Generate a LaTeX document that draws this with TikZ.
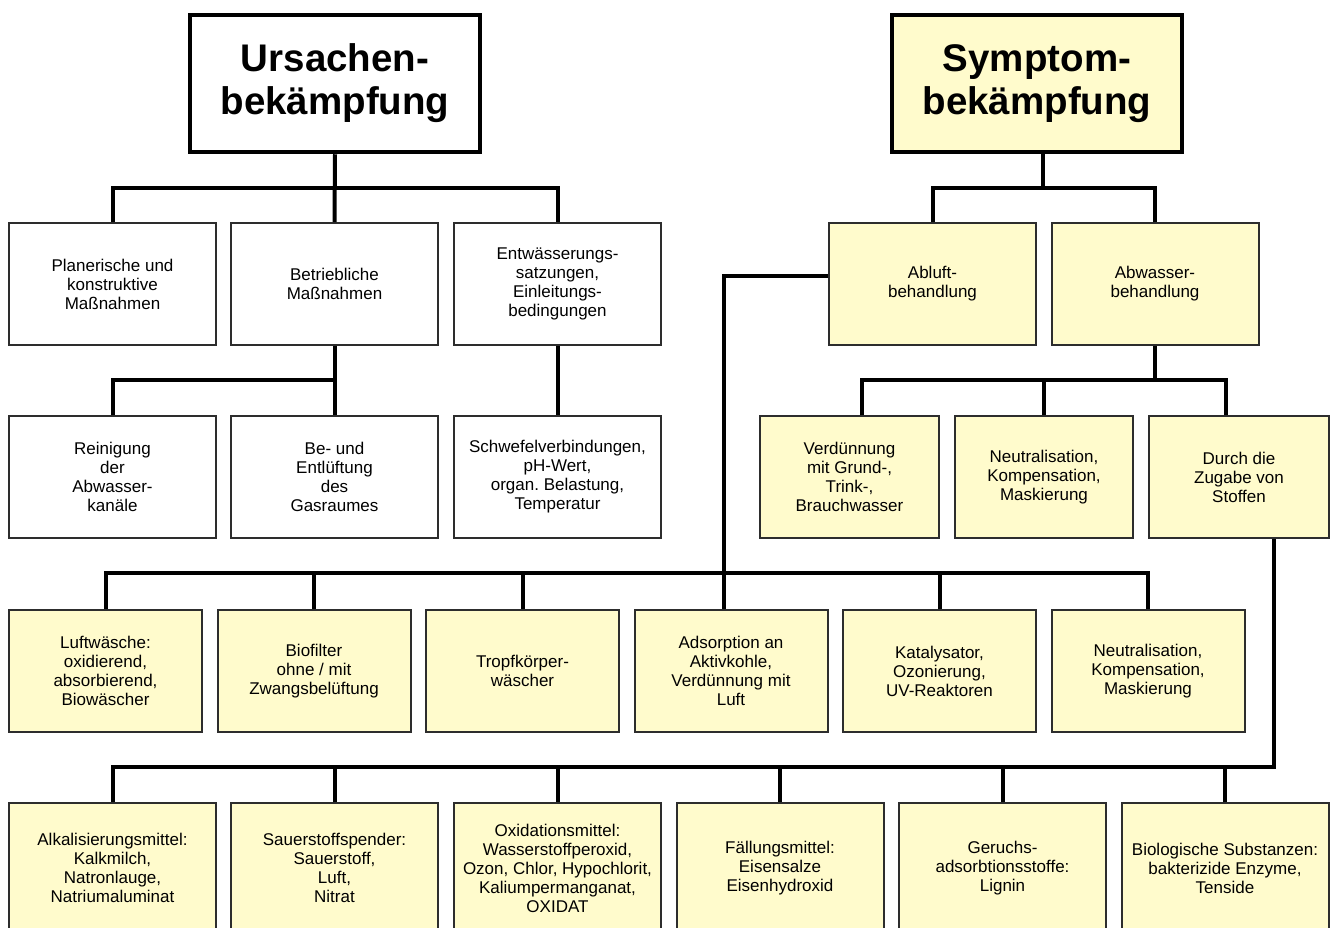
\documentclass[tikz,border=0pt]{standalone}
\usepackage{fontspec}
\setmainfont{Liberation Sans}
\usetikzlibrary{calc}
\definecolor{paleyellow}{RGB}{255,251,204}
\definecolor{edgegray}{RGB}{45,45,45}
\tikzset{
	mainbox/.style={draw=black, line width=4.5pt, minimum width=290, minimum height=137, inner sep=0, align=center, font=\fontsize{38.5}{43}\selectfont\bfseries},
	wbox/.style={draw=edgegray, line width=2pt, fill=white, minimum width=207, minimum height=122, inner sep=0, align=center, font=\fontsize{17}{19}\selectfont},
	ybox/.style={wbox, fill=paleyellow},
	conn/.style={line width=4pt, black}
}
\frenchspacing

\begin{document}
\begin{tikzpicture}[x=1pt, y=-1pt]
			%%%%% START %%%%%
			\useasboundingbox (0, 0) rectangle (1330, 927);
			\clip (0, 0) rectangle (1330, 927);
			
			% junction heights
			\coordinate (barA) at (0, 188);
			\coordinate (barB) at (0, 380);
			\coordinate (barC) at (0, 573);
			\coordinate (barD) at (0, 767);
			
			\node[mainbox] (urs) at (335, 83.5) {Ursachen-\\bekämpfung};
			\node[mainbox, fill=paleyellow] (sym) at (1037, 83.5) {Symptom-\\bekämpfung};
			
			\node[wbox] (plan) at (112.5, 284) {Planerische und\\konstruktive\\Maßnahmen};
			\node[wbox] (betr) at (334.5, 284) {Betriebliche\\Maßnahmen};
			\node[wbox] (entw) at (557.5, 284) {Entwässerungs-\\satzungen,\\Einleitungs-\\bedingungen};
			\node[ybox] (abl) at (932.5, 284) {Abluft-\\behandlung};
			\node[ybox] (abw) at (1155, 284) {Abwasser-\\behandlung};
			
			\node[wbox] (rein) at (112.5, 477) {Reinigung\\der\\Abwasser-\\kanäle};
			\node[wbox] (belue) at (334.5, 477) {Be- und\\Entlüftung\\des\\Gasraumes};
			\node[wbox] (schw) at (557.5, 477) {Schwefelverbindungen,\\pH-Wert,\\organ. Belastung,\\Temperatur};
			\node[ybox, minimum width=179] (verd) at (849.5, 477) {Verdünnung\\mit Grund-,\\Trink-,\\Brauchwasser};
			\node[ybox, minimum width=178] (neutA) at (1044, 477) {Neutralisation,\\Kompensation,\\Maskierung};
			\node[ybox, minimum width=180] (zug) at (1239, 477) {Durch die\\Zugabe von\\Stoffen};
			
			\node[ybox, minimum width=193] (luft) at (105.5, 671) {Luftwäsche:\\oxidierend,\\absorbierend,\\Biowäscher};
			\node[ybox, minimum width=193] (bio) at (314, 671) {Biofilter\\ohne / mit\\Zwangsbelüftung};
			\node[ybox, minimum width=193] (tropf) at (522.5, 671) {Tropfkörper-\\wäscher};
			\node[ybox, minimum width=193] (ads) at (731, 671) {Adsorption an\\Aktivkohle,\\Verdünnung mit\\Luft};
			\node[ybox, minimum width=193] (kat) at (939.5, 671) {Katalysator,\\Ozonierung,\\UV-Reaktoren};
			\node[ybox, minimum width=193] (neutB) at (1148, 671) {Neutralisation,\\Kompensation,\\Maskierung};
			
			% last row runs past the lower edge
			\node[ybox, minimum height=130] (alk) at (112.5, 868) {Alkalisierungsmittel:\\Kalkmilch,\\Natronlauge,\\Natriumaluminat};
			\node[ybox, minimum height=130] (sauer) at (334.5, 868) {Sauerstoffspender:\\Sauerstoff,\\Luft,\\Nitrat};
			\node[ybox, minimum height=130] (oxi) at (557.5, 868) {Oxidationsmittel:\\Wasserstoffperoxid,\\Ozon, Chlor, Hypochlorit,\\Kaliumpermanganat,\\OXIDAT};
			\node[ybox, minimum height=130] (fael) at (780, 868) {Fällungsmittel:\\Eisensalze\\Eisenhydroxid};
			\node[ybox, minimum height=130] (geruch) at (1002.5, 868) {Geruchs-\\adsorbtionsstoffe:\\Lignin};
			\node[ybox, minimum height=130] (biosub) at (1225, 868) {Biologische Substanzen:\\bakterizide Enzyme,\\Tenside};
			
			% Ursachenbekaempfung
			\draw[conn] (urs.south) -- (betr.north);
			\draw[conn] (plan.north) |- (entw.north |- barA) -- (entw.north);
			\draw[conn] (rein.north) |- (betr.south |- barB) -- (betr.south) (belue.north) -- (betr.south);
			\draw[conn] (entw.south) -- (schw.north);
			
			% Symptombekaempfung
			\draw[conn] ([xshift=6]sym.south) -- ([xshift=6]sym.south |- barA);
			\draw[conn] (abl.north) |- (abw.north |- barA) -- (abw.north);
			\draw[conn] (abw.south) -- (abw.south |- barB);
			\draw[conn] ([xshift=12.5]verd.north) |- ([xshift=-13]zug.north |- barB) -- ([xshift=-13]zug.north);
			\draw[conn] (neutA.north) -- (neutA.north |- barB);
			
			% Abluft
			\draw[conn] ([yshift=8]abl.west) -| ([xshift=-7]ads.north);
			\draw[conn] (luft.north) |- (neutB.north |- barC) -- (neutB.north);
			\foreach \n in {bio, tropf, kat}
				\draw[conn] (\n.north) -- (\n.north |- barC);
			
			% Abwasser, Zugabe von Stoffen
			\draw[conn] ([xshift=35]zug.south) |- (alk.north |- barD) -- (alk.north);
			\foreach \n in {sauer, oxi, fael, geruch, biosub}
				\draw[conn] (\n.north) -- (\n.north |- barD);
			
			%%%%% END %%%%%
\end{tikzpicture}
\end{document}
